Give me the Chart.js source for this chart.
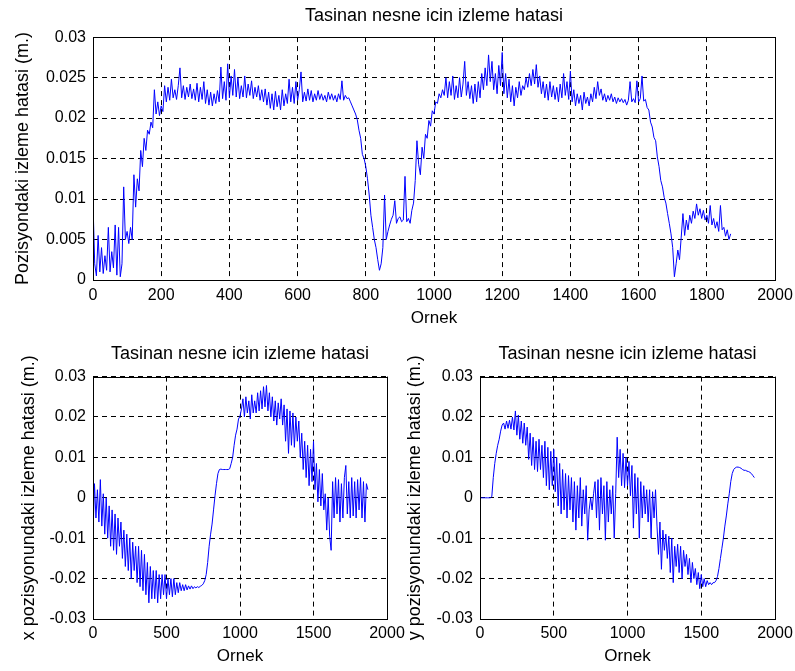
<!DOCTYPE html>
<html lang="tr">
<head>
<meta charset="UTF-8">
<title>Tasinan nesne icin izleme hatasi</title>
<script src="https://cdn.jsdelivr.net/npm/chart.js"></script>
<style>
    body { margin: 0; background: #fff; overflow: hidden; }
    #wrap { position: relative; width: 795px; height: 671px; overflow: hidden; }
    canvas { position: absolute; }
    #topChart { left: 0; top: 0; }
    #xChart { left: 0; top: 335px; }
    #yChart { left: 395px; top: 335px; }
</style>
</head>
<body>
<div id="wrap">
    <canvas id="topChart" width="805" height="335"></canvas>
    <canvas id="xChart" width="420" height="336"></canvas>
    <canvas id="yChart" width="410" height="336"></canvas>
</div>
<script>
// readings taken off the figure, values in metres
// top plot: one reading every 5 samples, bottom plots: every 10 samples
const TOP_STEP = 5;
const BOTTOM_STEP = 10;
const titleText = 'Tasinan nesne icin izleme hatasi';
const xLabel = 'Ornek';

const posError = [
    .0095,.0020,.0005,.0055,.0010,.0040,.0008,.0030,.0012,.0065,.0010,.0035,.0015,.0068,.0006,.0065,.0004,.0020,.0115,.0050,
    .0060,.0045,.0065,.0050,.0130,.0090,.0125,.0110,.0160,.0140,.0175,.0160,.0185,.0180,.0195,.0188,.0235,.0205,.0220,.0203,
    .0215,.0208,.0240,.0220,.0238,.0222,.0248,.0225,.0235,.0223,.0240,.0262,.0225,.0240,.0223,.0238,.0226,.0242,.0224,.0236,
    .0222,.0243,.0220,.0238,.0223,.0245,.0218,.0235,.0216,.0232,.0215,.0230,.0218,.0234,.0220,.0263,.0224,.0245,.0222,.0267,
    .0225,.0252,.0228,.0260,.0226,.0250,.0224,.0240,.0226,.0252,.0225,.0242,.0228,.0246,.0224,.0238,.0226,.0240,.0222,.0235,
    .0220,.0236,.0216,.0232,.0212,.0230,.0210,.0233,.0214,.0228,.0210,.0235,.0215,.0230,.0218,.0248,.0220,.0238,.0218,.0245,
    .0222,.0235,.0257,.0220,.0232,.0221,.0236,.0222,.0234,.0220,.0230,.0222,.0234,.0223,.0230,.0222,.0228,.0220,.0232,.0223,
    .0230,.0222,.0228,.0220,.0230,.0223,.0246,.0222,.0228,.0224,.0225,.0220,.0215,.0210,.0205,.0198,.0185,.0175,.0155,.0150,
    .0140,.0125,.0105,.0080,.0065,.0050,.0040,.0025,.0012,.0020,.0040,.0105,.0050,.0060,.0068,.0075,.0080,.0098,.0070,.0076,
    .0078,.0072,.0074,.0128,.0072,.0076,.0070,.0086,.0095,.0123,.0172,.0143,.0130,.0164,.0150,.0180,.0175,.0197,.0190,.0209,
    .0205,.0220,.0218,.0230,.0225,.0235,.0228,.0250,.0225,.0245,.0228,.0252,.0223,.0240,.0225,.0250,.0226,.0242,.0270,.0228,
    .0245,.0224,.0240,.0218,.0242,.0220,.0245,.0225,.0255,.0235,.0262,.0240,.0278,.0245,.0270,.0235,.0255,.0230,.0265,.0240,
    .0281,.0230,.0255,.0225,.0248,.0220,.0240,.0215,.0238,.0225,.0245,.0228,.0240,.0235,.0250,.0238,.0255,.0240,.0260,.0242,
    .0266,.0238,.0252,.0230,.0245,.0225,.0242,.0222,.0245,.0226,.0240,.0223,.0238,.0220,.0242,.0225,.0255,.0228,.0245,.0223,
    .0258,.0220,.0235,.0215,.0230,.0218,.0228,.0210,.0232,.0218,.0226,.0215,.0230,.0220,.0238,.0224,.0245,.0228,.0236,.0222,
    .0230,.0220,.0228,.0222,.0230,.0220,.0226,.0218,.0225,.0220,.0224,.0219,.0223,.0216,.0222,.0245,.0220,.0224,.0219,.0246,
    .0220,.0224,.0252,.0221,.0223,.0213,.0210,.0195,.0189,.0176,.0172,.0152,.0140,.0123,.0115,.0102,.0095,.0082,.0070,.0057,
    .0040,.0004,.0020,.0037,.0025,.0053,.0082,.0055,.0074,.0062,.0080,.0070,.0085,.0076,.0094,.0080,.0088,.0076,.0086,.0074,
    .0080,.0070,.0092,.0068,.0076,.0064,.0072,.0060,.0092,.0062,.0065,.0054,.0062,.0050,.0057
];

const xError = [
    -.009,.0035,-.005,.002,-.006,.0045,-.007,.001,-.009,0,
    -.010,-.002,-.012,-.003,-.013,-.004,-.014,-.005,-.012,-.006,
    -.015,-.008,-.017,-.009,-.018,-.010,-.020,-.011,-.018,-.012,
    -.021,-.012,-.022,-.013,-.023,-.014,-.024,-.016,-.026,-.017,
    -.025,-.018,-.025,-.018,-.026,-.019,-.025,-.019,-.024,-.019,
    -.025,-.020,-.024,-.020,-.0245,-.020,-.024,-.021,-.0235,-.021,
    -.023,-.0215,-.023,-.0215,-.0228,-.0218,-.0226,-.0218,-.0225,-.022,
    -.0223,-.022,-.0222,-.0219,-.0217,-.0213,-.0205,-.019,-.016,-.012,
    -.009,-.0065,-.003,.0005,.0035,.006,.007,.0071,.007,.007,
    .007,.007,.007,.0072,.0085,.010,.013,.0155,.017,.0195,
    .0202,.022,.0245,.020,.025,.021,.024,.0195,.0255,.021,
    .024,.021,.026,.0215,.0265,.022,.0275,.0225,.0278,.0215,
    .026,.020,.025,.019,.024,.018,.0235,.0195,.0245,.018,
    .023,.014,.022,.011,.0215,.013,.021,.0125,.020,.014,
    .019,.010,.016,.007,.014,.005,.013,.003,.012,.004,
    .014,.002,.0085,-.001,.007,-.002,.006,-.003,.001,-.008,
    0,-.0095,-.013,.004,-.005,.005,-.004,.0045,-.006,.0035,
    -.005,.005,.008,-.004,.004,-.005,.005,-.0045,.004,-.005,
    .0045,-.003,.005,-.005,.004,-.006,.0035,.002
];

const yError = [
    0,0,0,0,0,0,0,0,.0003,.005,
    .0085,.011,.013,.0145,.0165,.018,.0185,.017,.019,.0172,
    .0192,.017,.020,.0168,.0215,.0155,.0205,.0145,.019,.0135,
    .0185,.013,.0175,.0095,.016,.008,.015,.007,.014,.0065,
    .0145,.007,.013,.005,.014,.003,.0125,.002,.0115,.003,
    .012,.0015,.010,-.002,.0085,-.004,.007,-.003,.006,-.005,
    .0055,-.003,.005,-.006,.004,-.008,.003,-.005,.005,-.007,
    .002,-.004,.003,-.0105,-.003,0,-.003,.001,.004,-.005,
    .0045,-.008,.005,-.004,.003,-.0105,.004,-.006,.002,-.004,
    .003,-.010,.001,.015,.005,.012,.003,.011,.0025,.010,
    .003,.009,.0005,.008,-.0075,.006,-.004,.005,-.010,.004,
    -.005,.003,-.004,.002,-.006,.002,-.010,.0015,-.005,.002,
    -.007,-.014,-.006,-.0177,-.008,-.013,-.009,-.015,-.0095,-.0185,
    -.010,-.021,-.012,-.017,-.0115,-.0185,-.012,-.020,-.013,-.017,
    -.014,-.019,-.015,-.021,-.016,-.020,-.0175,-.0215,-.0185,-.0225,
    -.019,-.022,-.020,-.022,-.0205,-.0215,-.021,-.0215,-.021,-.021,
    -.0205,-.0195,-.0175,-.015,-.0125,-.010,-.007,-.0045,-.0015,.001,
    .004,.006,.007,.0074,.0076,.0076,.0075,.0073,.007,.0068,
    .0068,.0066,.0065,.0063,.006,.0055,.005
];

Chart.defaults.font.family = '"Liberation Sans", Arial, sans-serif';
Chart.defaults.font.size = 16;
Chart.defaults.color = '#000';

// matlab style closed box around the axes
const boxPlugin = {
    id: 'box',
    afterDraw(chart) {
        const a = chart.chartArea, ctx = chart.ctx;
        ctx.save();
        ctx.strokeStyle = '#000';
        ctx.lineWidth = 1;
        ctx.strokeRect(Math.round(a.left) + 0.5, Math.round(a.top) + 0.5,
            Math.round(a.right - a.left), Math.round(a.bottom - a.top));
        ctx.restore();
    }
};

const fmt = v => String(+Number(v).toFixed(3));

function makeChart(id, values, step, o) {
    const pts = values.map((v, i) => ({ x: i * step, y: v }));
    return new Chart(document.getElementById(id), {
        type: 'line',
        data: { datasets: [{ data: pts, borderColor: '#0000ff', borderWidth: 1, pointRadius: 0, tension: 0 }] },
        plugins: [boxPlugin],
        options: {
            responsive: false,
            animation: false,
            devicePixelRatio: 1,
            // right padding wider than the half "2000" label so the box edge stays put
            layout: { padding: { top: 0, left: 0, bottom: 0, right: o.padRight } },
            plugins: {
                legend: { display: false },
                tooltip: { enabled: false },
                // title centred over the axes, not the whole canvas
                title: { display: true, fullSize: false, text: titleText, font: { size: 18, weight: 'normal' }, color: '#000',
                         padding: { top: o.titleTop, bottom: o.titleBottom } }
            },
            scales: {
                x: {
                    type: 'linear', min: 0, max: 2000,
                    grid: { color: '#000', drawTicks: false },
                    border: { display: false, dash: [5, 4] },
                    ticks: { stepSize: o.xStep, autoSkip: false, maxRotation: 0, padding: o.xTickPad, callback: v => String(v) },
                    title: { display: true, text: xLabel, font: { size: 17 }, padding: { top: 0, bottom: o.xTitleBottom } },
                    afterFit: s => { s.height = o.xHeight; }
                },
                y: {
                    min: o.yMin, max: o.yMax,
                    grid: { color: '#000', drawTicks: false },
                    border: { display: false, dash: [5, 4] },
                    ticks: { stepSize: o.yStep, padding: 7, callback: fmt },
                    title: { display: true, text: o.yLabel, font: { size: 18 }, padding: { top: o.yTitleTop, bottom: 0 } },
                    afterFit: s => { s.width = o.yWidth; }
                }
            }
        }
    });
}

makeChart('topChart', posError, TOP_STEP, {
    padRight: 30, titleTop: 5, titleBottom: 10.5, xStep: 200, xTickPad: 6, xTitleBottom: 6, xHeight: 55,
    yMin: 0, yMax: 0.03, yStep: 0.005, yLabel: 'Pozisyondaki izleme hatasi (m.)', yTitleTop: 12.5, yWidth: 93
});
makeChart('xChart', xError, BOTTOM_STEP, {
    padRight: 33, titleTop: 8, titleBottom: 12, xStep: 500, xTickPad: 5, xTitleBottom: 4, xHeight: 52,
    yMin: -0.03, yMax: 0.03, yStep: 0.01, yLabel: 'x pozisyonundaki izleme hatasi (m.)', yTitleTop: 18.5, yWidth: 93
});
makeChart('yChart', yError, BOTTOM_STEP, {
    padRight: 30, titleTop: 8, titleBottom: 12, xStep: 500, xTickPad: 5, xTitleBottom: 4, xHeight: 52,
    yMin: -0.03, yMax: 0.03, yStep: 0.01, yLabel: 'y pozisyonundaki izleme hatasi (m.)', yTitleTop: 9, yWidth: 85
});
</script>
</body>
</html>
